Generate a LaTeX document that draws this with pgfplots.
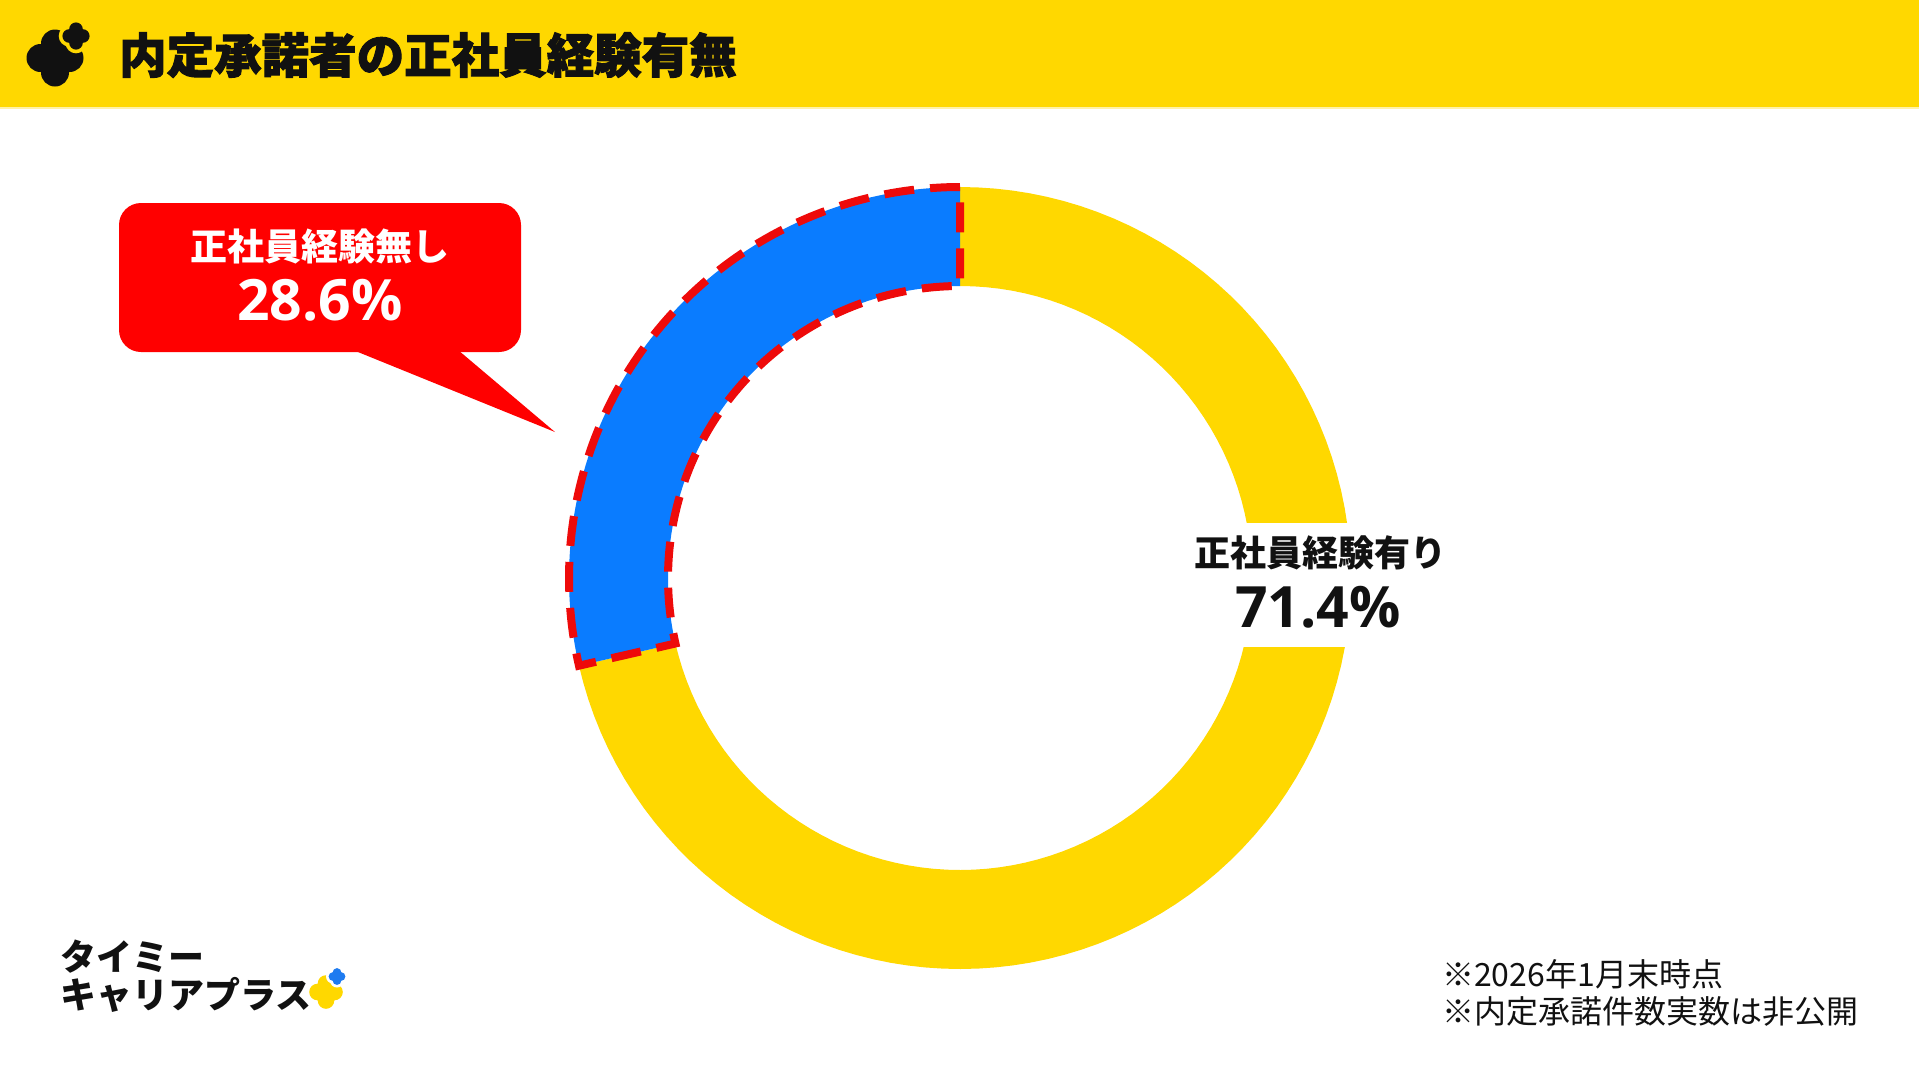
\documentclass[border=0pt]{standalone}
\usepackage{pgfplots}
\pgfplotsset{compat=1.18}
\usepackage{pgfplotstable}
\usepackage{fontspec}
\setmainfont{Noto Sans CJK JP}
\newfontfamily\titlefont[BoldFeatures={FakeBold=2}]{Noto Sans CJK JP}
\newfontfamily\numfont{Open Sans}
\definecolor{ringyellow}{HTML}{FFD800}
\definecolor{ringblue}{HTML}{0A7CFF}
\definecolor{callred}{HTML}{FF0000}
\definecolor{dashred}{HTML}{EE0A0A}
\definecolor{inkdark}{HTML}{111111}
\definecolor{logoblue}{HTML}{1E7BF0}

% clover: cx, cy, lobe offset, lobe radius, colour
\newcommand\clover[5]{\fill[#5] (axis cs:#1,#2-#3) circle[radius=#4]
  (axis cs:#1-#3,#2) circle[radius=#4] (axis cs:#1+#3,#2) circle[radius=#4]
  (axis cs:#1,#2+#3) circle[radius=#4] (axis cs:#1,#2) circle[radius=#3];}

\pgfplotstableread{
group share
yes 71.4
no 28.6
}\sharetable
\pgfplotstablegetelem{0}{share}\of\sharetable\let\vYes\pgfplotsretval
\pgfplotstablegetelem{1}{share}\of\sharetable\let\vNo\pgfplotsretval
\pgfmathsetmacro\angB{90+\vNo*3.6}

\begin{document}
\begin{tikzpicture}
\begin{axis}[scale only axis, width=1919pt, height=1080pt,
  xmin=0, xmax=1919, ymin=0, ymax=1080, y dir=reverse,
  hide axis, clip=false, no markers,
  declare function={
    ringrad(\u)=391-99*min(max(\u-1,0),1)+99*max(\u-3,0);
    ringang(\u,\a,\b)=\a+(\b-\a)*min(\u,1)-(\b-\a)*min(max(\u-2,0),1);
  }]
% background
\fill[white] (axis cs:0,0) rectangle (axis cs:1919,1080);
% banner
\fill[ringyellow] (axis cs:0,0) rectangle (axis cs:1919,107);
\fill[ringyellow!35] (axis cs:0,107) rectangle (axis cs:1919,109);
% title icon
\clover{55}{58}{14.5}{14}{inkdark}
\clover{76}{36}{6.8}{10.5}{ringyellow}
\clover{76}{36}{6.8}{6.8}{inkdark}
% title
\node[anchor=base west, inner sep=0, text=inkdark] at (axis cs:119,73)
  {\titlefont\bfseries\fontsize{47.5}{52}\selectfont 内定承諾者の正社員経験有無};

% donut ring
\addplot[fill=ringyellow, draw=none, domain=0:4, samples=401, variable=\t]
  ({960+ringrad(\t)*cos(ringang(\t,\angB,450))},{578-ringrad(\t)*sin(ringang(\t,\angB,450))});
\addplot[fill=ringblue, draw=dashred, line width=8pt, dash pattern=on 30pt off 16pt,
  domain=0:4, samples=401, variable=\t]
  ({960+ringrad(\t)*cos(ringang(\t,90,\angB))},{578-ringrad(\t)*sin(ringang(\t,90,\angB))});

% label for the yellow segment
\fill[white] (axis cs:1180,523) rectangle (axis cs:1460,647);
\node[anchor=base, inner sep=0, text=inkdark] at (axis cs:1320,566)
  {\bfseries\fontsize{36}{40}\selectfont 正社員経験有り};
\node[anchor=base, inner sep=0, text=inkdark] at (axis cs:1318,627)
  {\numfont\bfseries\fontsize{57}{60}\selectfont \vYes\%};

% callout for the blue segment
\fill[callred, rounded corners=22pt] (axis cs:119,203) rectangle (axis cs:521,352);
\fill[callred] (axis cs:353,350) -- (axis cs:458,350) -- (axis cs:555,432) -- cycle;
\node[anchor=base, inner sep=0, text=white] at (axis cs:320,260)
  {\bfseries\fontsize{37}{40}\selectfont 正社員経験無し};
\node[anchor=base, inner sep=0, text=white] at (axis cs:320,320)
  {\numfont\bfseries\fontsize{57}{60}\selectfont \vNo\%};

% brand logo bottom left
\node[anchor=base west, inner sep=0, text=inkdark] at (axis cs:60,970)
  {\bfseries\fontsize{36}{40}\selectfont タイミー};
\node[anchor=base west, inner sep=0, text=inkdark] at (axis cs:60,1008)
  {\bfseries\fontsize{36}{40}\selectfont キャリアプラス};
\clover{326}{992}{8.5}{8.3}{ringyellow}
\clover{337}{976.5}{4}{7}{white}
\clover{337}{976.5}{4}{4.4}{logoblue}

% footnotes
\node[anchor=base west, inner sep=0, text=inkdark] at (axis cs:1442,986)
  {\fontsize{32}{36}\selectfont ※2026年1月末時点};
\node[anchor=base west, inner sep=0, text=inkdark] at (axis cs:1442,1023)
  {\fontsize{32}{36}\selectfont ※内定承諾件数実数は非公開};
\end{axis}
\end{tikzpicture}
\end{document}
